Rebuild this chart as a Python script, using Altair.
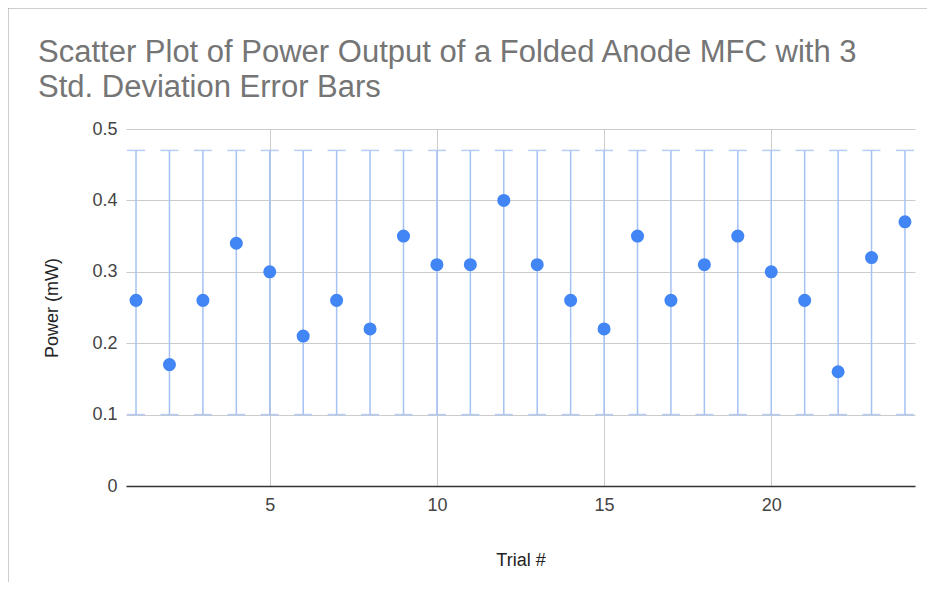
import altair as alt
import pandas as pd

trials = list(range(1, 25))
power = [0.26, 0.17, 0.26, 0.34, 0.30, 0.21, 0.26, 0.22, 0.35, 0.31, 0.31, 0.40,
         0.31, 0.26, 0.22, 0.35, 0.26, 0.31, 0.35, 0.30, 0.26, 0.16, 0.32, 0.37]
err_low = [0.10] * 24
err_high = [0.47] * 24
title_lines = ["Scatter Plot of Power Output of a Folded Anode MFC with 3", "Std. Deviation Error Bars"]

df = pd.DataFrame({"trial": trials, "power": power, "lo": err_low, "hi": err_high})

FONT = "Liberation Sans, Arial"
xs = alt.Scale(domain=[0.7, 24.3], nice=False, zero=False)
ys = alt.Scale(domain=[0, 0.5], nice=False)

base = alt.Chart(df)

xaxis = alt.Axis(values=[5, 10, 15, 20], title="Trial #", grid=True, gridColor="#cccccc",
                 ticks=False, domainColor="#333333", domainWidth=1.5,
                 labelFont=FONT, labelFontSize=18, labelColor="#444444", labelPadding=10,
                 titleFont=FONT, titleFontSize=18, titleColor="#222222", titleFontWeight="normal",
                 titlePadding=37)
yaxis = alt.Axis(values=[0, 0.1, 0.2, 0.3, 0.4, 0.5], title="Power (mW)", grid=True,
                 gridColor="#cccccc", ticks=False, domain=False,
                 labelExpr="datum.value == 0 ? '0' : format(datum.value, '.1f')",
                 labelFont=FONT, labelFontSize=18, labelColor="#444444", labelPadding=9,
                 titleFont=FONT, titleFontSize=18, titleColor="#222222", titleFontWeight="normal",
                 titlePadding=30)

bars = base.mark_rule(color="#a4c2f4", strokeWidth=1.5).encode(
    x=alt.X("trial:Q", scale=xs, axis=xaxis),
    y=alt.Y("lo:Q", scale=ys, axis=yaxis),
    y2="hi:Q",
)
cap_lo = base.mark_tick(color="#a4c2f4", orient="horizontal", size=18, thickness=1.5, opacity=0.8).encode(
    x=alt.X("trial:Q", scale=xs), y=alt.Y("lo:Q", scale=ys))
cap_hi = base.mark_tick(color="#a4c2f4", orient="horizontal", size=18, thickness=1.5, opacity=0.8).encode(
    x=alt.X("trial:Q", scale=xs), y=alt.Y("hi:Q", scale=ys))
pts = base.mark_circle(color="#4285f4", size=170, opacity=1).encode(
    x=alt.X("trial:Q", scale=xs), y=alt.Y("power:Q", scale=ys))

t1 = alt.Chart(pd.DataFrame({"t": [title_lines[0]]})).mark_text(
    font=FONT, fontSize=31, color="#757575", align="left", baseline="alphabetic").encode(
    text="t:N", x=alt.value(-88), y=alt.value(-67))
t2 = alt.Chart(pd.DataFrame({"t": [title_lines[1]]})).mark_text(
    font=FONT, fontSize=31, color="#757575", align="left", baseline="alphabetic").encode(
    text="t:N", x=alt.value(-88), y=alt.value(-32))

frame_top = alt.Chart(pd.DataFrame({"a": [0]})).mark_rule(color="#9e9e9e", strokeWidth=1).encode(
    x=alt.value(-118), x2=alt.value(820), y=alt.value(-121))
frame_left = alt.Chart(pd.DataFrame({"a": [0]})).mark_rule(color="#9e9e9e", strokeWidth=1).encode(
    x=alt.value(-118), y=alt.value(-121), y2=alt.value(500))

chart = alt.layer(bars, cap_lo, cap_hi, pts, t1, t2, frame_top, frame_left).properties(
    width=789, height=357,
    autosize="none",
    padding={"left": 118, "top": 121, "right": 12, "bottom": 96},
).configure_view(stroke=None)

chart.save("out.html", embed_options={"renderer": "svg", "actions": False})
